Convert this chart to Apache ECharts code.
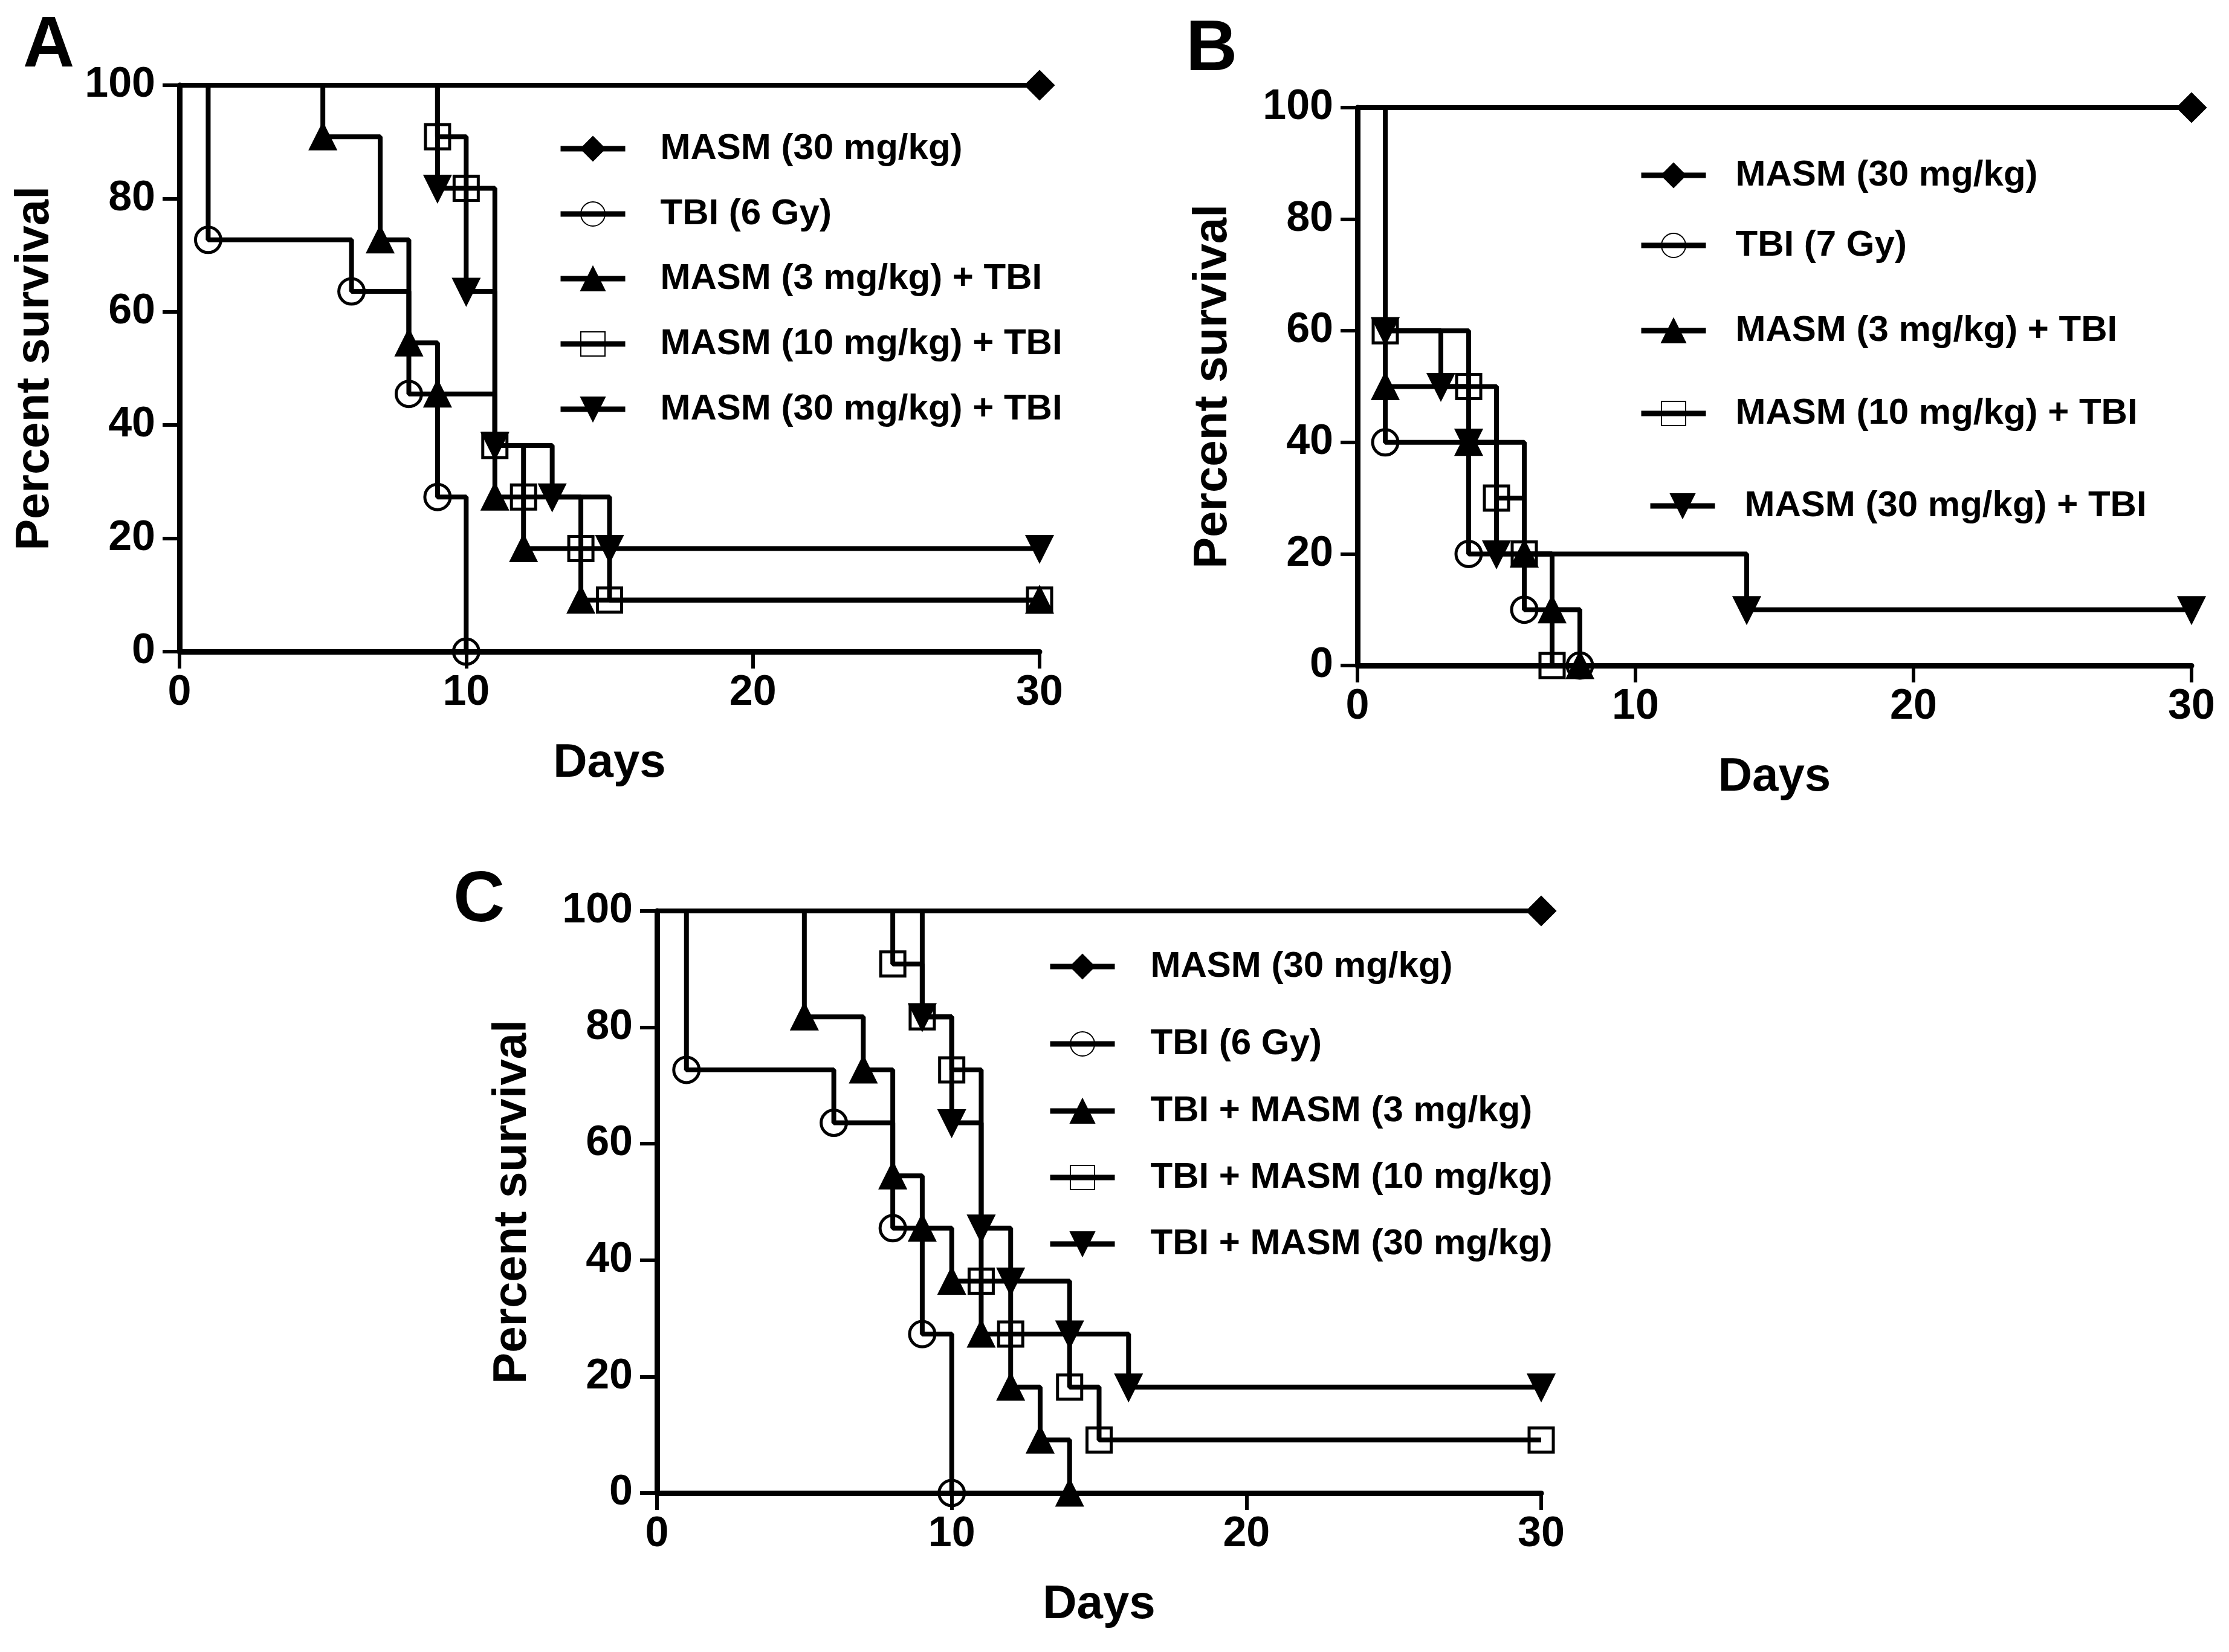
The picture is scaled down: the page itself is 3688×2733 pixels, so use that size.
<!DOCTYPE html>
<html>
<head>
<meta charset="utf-8">
<script src="https://cdn.jsdelivr.net/npm/echarts@6/dist/echarts.min.js"></script>
<style>
  html, body { margin: 0; padding: 0; background: #fff; }
  #main { width: 3688px; height: 2733px; }
</style>
</head>
<body>
<div id="main"></div>
<script>
// data: [day, percent survival]
const A_MASM30 = [[0, 100], [30, 100]];
const A_TBI = [[0, 100], [1, 72.7], [6, 63.6], [8, 45.5], [9, 27.3], [10, 0]];
const A_MASM3_TBI = [[0, 100], [5, 90.9], [7, 72.7], [8, 54.5], [9, 45.5], [11, 27.3], [12, 18.2], [14, 9.1], [30, 9.1]];
const A_MASM10_TBI = [[0, 100], [9, 90.9], [10, 81.8], [11, 36.4], [12, 27.3], [14, 18.2], [15, 9.1], [30, 9.1]];
const A_MASM30_TBI = [[0, 100], [9, 81.8], [10, 63.6], [11, 36.4], [13, 27.3], [15, 18.2], [30, 18.2]];

const B_MASM30 = [[0, 100], [30, 100]];
const B_TBI = [[0, 100], [1, 40], [4, 20], [6, 10], [8, 0]];
const B_MASM3_TBI = [[0, 100], [1, 50], [4, 40], [6, 20], [7, 10], [8, 0]];
const B_MASM10_TBI = [[0, 100], [1, 60], [4, 50], [5, 30], [6, 20], [7, 0]];
const B_MASM30_TBI = [[0, 100], [1, 60], [3, 50], [4, 40], [5, 20], [14, 10], [30, 10]];

const C_MASM30 = [[0, 100], [30, 100]];
const C_TBI = [[0, 100], [1, 72.7], [6, 63.6], [8, 45.5], [9, 27.3], [10, 0]];
const C_TBI_MASM3 = [[0, 100], [5, 81.8], [7, 72.7], [8, 54.5], [9, 45.5], [10, 36.4], [11, 27.3], [12, 18.2], [13, 9.1], [14, 0]];
const C_TBI_MASM10 = [[0, 100], [8, 90.9], [9, 81.8], [10, 72.7], [11, 36.4], [12, 27.3], [14, 18.2], [15, 9.1], [30, 9.1]];
const C_TBI_MASM30 = [[0, 100], [9, 81.8], [10, 63.6], [11, 45.5], [12, 36.4], [14, 27.3], [16, 18.2], [30, 18.2]];

const namesA = ['MASM (30 mg/kg)', 'TBI (6 Gy)', 'MASM (3 mg/kg) + TBI', 'MASM (10 mg/kg) + TBI', 'MASM (30 mg/kg) + TBI'];
const namesB = ['MASM (30 mg/kg)', 'TBI (7 Gy)', 'MASM (3 mg/kg) + TBI', 'MASM (10 mg/kg) + TBI', 'MASM (30 mg/kg) + TBI'];
const namesC = ['MASM (30 mg/kg)', 'TBI (6 Gy)', 'TBI + MASM (3 mg/kg)', 'TBI + MASM (10 mg/kg)', 'TBI + MASM (30 mg/kg)'];

const xTicks = [0, 10, 20, 30];
const yTicks = [0, 20, 40, 60, 80, 100];

const FONT = 'Liberation Sans, Arial, sans-serif';

// marker look for the 5 groups (same order in every panel)
const marks = [
  { symbol: 'diamond', size: 44, fill: '#000', rotate: 0 },
  { symbol: 'circle', size: 42, fill: 'rgba(0,0,0,0)', rotate: 0 },
  { symbol: 'triangle', size: 40, fill: '#000', rotate: 0 },
  { symbol: 'rect', size: 40, fill: 'rgba(0,0,0,0)', rotate: 0 },
  { symbol: 'triangle', size: 40, fill: '#000', rotate: 180 }
];

const grids = [
  { left: 297, top: 141, width: 1423, height: 937 },
  { left: 2246, top: 178, width: 1380, height: 923 },
  { left: 1087, top: 1507, width: 1463, height: 963 }
];

function axisBase() {
  return {
    type: 'value',
    axisLine: { show: true, lineStyle: { color: '#000', width: 9 } },
    axisTick: { show: true, length: 28, lineStyle: { color: '#000', width: 6 } },
    splitLine: { show: false },
    axisLabel: { color: '#000', fontSize: 70, fontWeight: 'bold', fontFamily: FONT },
    nameTextStyle: { color: '#000', fontSize: 78, fontWeight: 'bold', fontFamily: FONT },
    nameLocation: 'middle'
  };
}

const xAxes = grids.map((g, i) => Object.assign(axisBase(), {
  gridIndex: i, min: xTicks[0], max: xTicks[xTicks.length - 1], interval: 10,
  name: 'Days', nameGap: 146,
  axisLabel: Object.assign(axisBase().axisLabel, { margin: 34 })
}));
const yAxes = grids.map((g, i) => Object.assign(axisBase(), {
  gridIndex: i, min: yTicks[0], max: yTicks[yTicks.length - 1], interval: 20,
  name: 'Percent survival', nameGap: 200,
  axisLabel: Object.assign(axisBase().axisLabel, { margin: 40 })
}));

function makeSeries(name, data, k, panel) {
  const m = marks[k];
  return {
    name: name,
    type: 'line',
    xAxisIndex: panel, yAxisIndex: panel,
    step: 'end',
    clip: false,
    symbol: m.symbol,
    symbolSize: m.size,
    symbolRotate: m.rotate,
    showAllSymbol: true,
    lineStyle: { color: '#000', width: 8 },
    itemStyle: { color: m.fill, borderColor: '#000', borderWidth: 5 },
    emphasis: { disabled: true },
    data: data.map((p, j) => j === 0 ? { value: p, symbol: 'none' } : { value: p })
  };
}

const panelData = [
  [A_MASM30, A_TBI, A_MASM3_TBI, A_MASM10_TBI, A_MASM30_TBI],
  [B_MASM30, B_TBI, B_MASM3_TBI, B_MASM10_TBI, B_MASM30_TBI],
  [C_MASM30, C_TBI, C_TBI_MASM3, C_TBI_MASM10, C_TBI_MASM30]
];
const panelNames = [namesA, namesB, namesC];

const series = [];
panelData.forEach((list, p) => {
  list.forEach((d, k) => series.push(makeSeries(panelNames[p][k], d, k, p)));
});

// legend rows: [iconLeft, textPad, rowCenterY]
const legendRows = [
  [[923, 53, 246], [923, 53, 354], [923, 53, 461], [923, 53, 569], [923, 53, 677]],
  [[2711, 44, 290], [2711, 44, 406], [2711, 44, 547], [2711, 44, 684], [2726, 44, 837]],
  [[1733, 54, 1599], [1733, 54, 1727], [1733, 54, 1838], [1733, 54, 1948], [1733, 54, 2058]]
];

const legends = [];
legendRows.forEach((rows, p) => {
  rows.forEach((r, k) => {
    legends.push({
      left: r[0], top: r[2] - 35, padding: 0,
      itemWidth: 107, itemHeight: 50,
      selectedMode: false,
      lineStyle: { width: 9 },
      data: [panelNames[p][k]],
      textStyle: { color: '#000', fontSize: 60, fontWeight: 'bold', fontFamily: FONT, lineHeight: 70, padding: [0, 0, 0, r[1]] }
    });
  });
});

const letterStyle = { color: '#000', fontSize: 118, fontWeight: 'bold', fontFamily: FONT };
const titles = [
  { text: 'A', left: 38, top: 18, padding: 0, textStyle: letterStyle },
  { text: 'B', left: 1962, top: 24, padding: 0, textStyle: letterStyle },
  { text: 'C', left: 750, top: 1432, padding: 0, textStyle: letterStyle }
];

const options = {
  animation: false,
  backgroundColor: '#fff',
  title: titles,
  legend: legends,
  grid: grids,
  xAxis: xAxes,
  yAxis: yAxes,
  series: series
};

var myChart = echarts.init(document.getElementById('main'));
myChart.setOption(options);
</script>
</body>
</html>
